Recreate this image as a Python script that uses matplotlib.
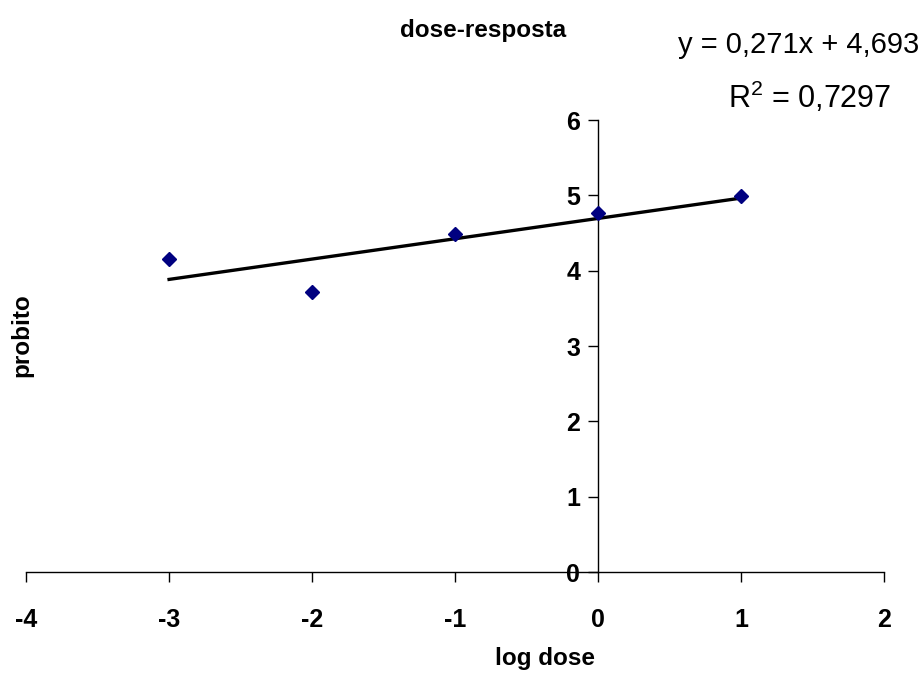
import numpy as np
import matplotlib
matplotlib.use("Agg")
import matplotlib.pyplot as plt
from matplotlib import font_manager

log_dose = [-3, -2, -1, 0, 1]
probito = [4.16, 3.72, 4.49, 4.76, 4.99]
x_ticks = [-4, -3, -2, -1, 0, 1, 2]
y_ticks = [0, 1, 2, 3, 4, 5, 6]
title = "dose-resposta"
xlabel = "log dose"
ylabel = "probito"
eq_line1 = "y = 0,271x + 4,693"
eq_line2 = "R$^2$ = 0,7297"

names = {f.name for f in font_manager.fontManager.ttflist}
narrow = "Liberation Sans Narrow" if "Liberation Sans Narrow" in names else "Liberation Sans"
plt.rcParams['font.family'] = [narrow, 'DejaVu Sans']
plt.rcParams['mathtext.fontset'] = 'custom'
plt.rcParams['mathtext.rm'] = narrow

W, H = 923, 675
fig = plt.figure(figsize=(W / 100, H / 100), dpi=100)
left, right = 26 / W, 884.5 / W
bottom, top = (H - 572) / H, (H - 120) / H
ax = fig.add_axes([left, bottom, right - left, top - bottom])
ax.set_xlim(-4, 2)
ax.set_ylim(0, 6)

ax.spines['top'].set_visible(False)
ax.spines['right'].set_visible(False)
ax.spines['left'].set_position(('data', 0))
ax.spines['bottom'].set_position(('data', 0))
for s in ('left', 'bottom'):
    ax.spines[s].set_linewidth(1.0)
    ax.spines[s].set_color('black')

ax.set_xticks(x_ticks)
ax.set_yticks(y_ticks)
ax.set_xticklabels([str(v) for v in x_ticks], fontsize=18, fontweight='bold')
ax.set_yticklabels([str(v) for v in y_ticks], fontsize=18, fontweight='bold')
ax.tick_params(axis='x', direction='out', length=7, width=1, pad=19)
ax.tick_params(axis='y', direction='out', length=7, width=1, pad=6)

# trendline from least-squares fit
coef = np.polyfit(log_dose, probito, 1)
xs = np.array([min(log_dose), max(log_dose)])
ax.plot(xs, np.polyval(coef, xs), color='black', lw=2.4, zorder=2)

ax.plot(log_dose, probito, linestyle='none', marker='D', markersize=7.5,
        color='#000080', zorder=3, clip_on=False)

fig.text(483 / W, 1 - 30 / H, title, ha='center', va='center', fontsize=17.5, fontweight='bold')
fig.text(545 / W, 1 - 658 / H, xlabel, ha='center', va='center', fontsize=17.5, fontweight='bold')
fig.text(22 / W, 1 - 335 / H, ylabel, ha='center', va='center', rotation=90, fontsize=17.5, fontweight='bold')
fig.text(799 / W, 1 - 45 / H, eq_line1, ha='center', va='center', fontsize=21)
fig.text(810 / W, 1 - 97 / H, eq_line2, ha='center', va='center', fontsize=22)

fig.savefig("out.png", dpi=100)
